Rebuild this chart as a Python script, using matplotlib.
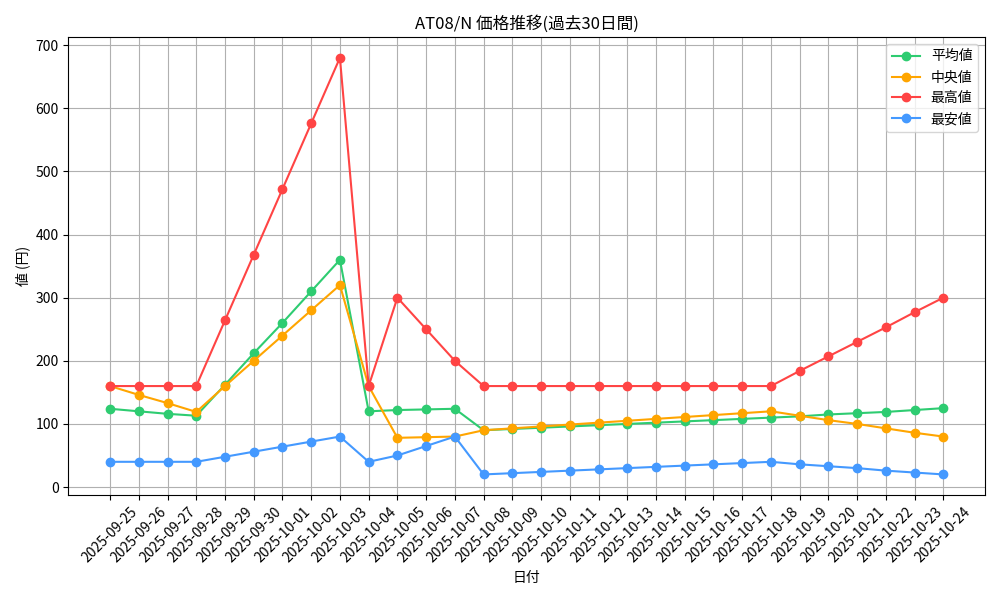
import numpy as np
import pandas as pd
import matplotlib
matplotlib.use('Agg')
import matplotlib.pyplot as plt

plt.rcParams['font.family'] = ['Noto Sans CJK JP', 'DejaVu Sans']

dates = pd.date_range('2025-09-25', '2025-10-24').strftime('%Y-%m-%d').tolist()

avg = [124, 120, 116, 113, 162, 212, 260, 310, 360,
       120, 122, 123, 124,
       90, 92, 94, 96, 98, 100, 102, 104, 106, 108, 110, 112, 115, 117, 119, 122, 125]
median = [160, 146, 133, 119, 160, 200, 240, 280, 320,
          160, 78, 79, 80,
          90, 93, 96, 99, 102, 105, 108, 111, 114, 117, 120,
          113, 106, 100, 93, 86, 80]
high = [160, 160, 160, 160, 264, 368, 472, 576, 680,
        160, 300, 250, 200,
        160, 160, 160, 160, 160, 160, 160, 160, 160, 160, 160,
        184, 207, 230, 253, 277, 300]
low = [40, 40, 40, 40, 48, 56, 64, 72, 80,
       40, 50, 65, 80,
       20, 22, 24, 26, 28, 30, 32, 34, 36, 38, 40,
       36, 33, 30, 26, 23, 20]

fig, ax = plt.subplots(figsize=(10, 6), dpi=100)
ax.plot(dates, avg, marker='o', color='#2ecc71', label='平均値')
ax.plot(dates, median, marker='o', color='#ffa500', label='中央値')
ax.plot(dates, high, marker='o', color='#ff4444', label='最高値')
ax.plot(dates, low, marker='o', color='#4499ff', label='最安値')

ax.set_title('AT08/N 価格推移(過去30日間)')
ax.set_xlabel('日付')
ax.set_ylabel('値 (円)')
ax.grid(True)
ax.legend(loc='upper right')
plt.xticks(rotation=45)
plt.tight_layout()
plt.savefig('out.png')
